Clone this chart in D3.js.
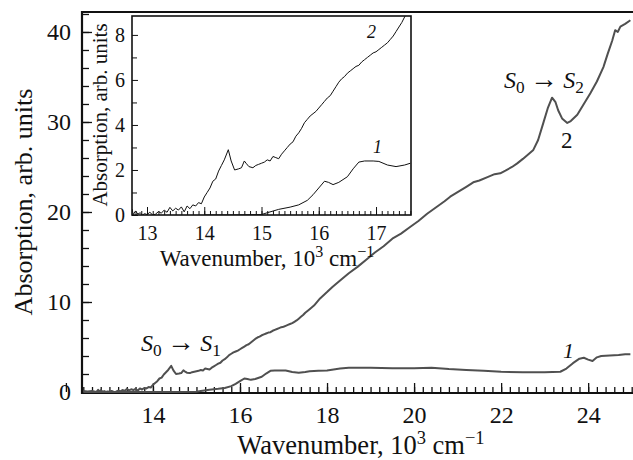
<!DOCTYPE html>
<html>
<head>
<meta charset="utf-8">
<script src="https://cdn.jsdelivr.net/npm/d3@7"></script>
<style>
  body { margin: 0; background: #fff; }
</style>
</head>
<body>
<svg id="chart" width="633" height="460"></svg>
<script>
// curve 2 (S0->S1 and S0->S2 bands), wavenumber in 10^3 cm^-1
const wave2 = [12.40, 12.50, 12.60, 12.70, 12.74, 12.76, 12.80, 12.84, 12.88, 12.92, 12.96, 13.00,
  13.05, 13.10, 13.15, 13.20, 13.25, 13.30, 13.35, 13.40, 13.45, 13.50, 13.55, 13.60, 13.65, 13.70,
  13.75, 13.80, 13.85, 13.90, 13.95, 14.00, 14.05, 14.10, 14.15, 14.20, 14.25, 14.30, 14.35, 14.42,
  14.47, 14.53, 14.60, 14.65, 14.70, 14.73, 14.78, 14.85, 14.90, 14.95, 15.00, 15.05, 15.10, 15.15,
  15.20, 15.25, 15.30, 15.35, 15.40, 15.45, 15.50, 15.55, 15.60, 15.65, 15.70, 15.75, 15.80, 15.85,
  15.90, 15.95, 16.00, 16.05, 16.10, 16.15, 16.20, 16.25, 16.30, 16.35, 16.40, 16.45, 16.50, 16.55,
  16.60, 16.65, 16.70, 16.75, 16.80, 16.85, 16.90, 16.95, 17.00, 17.05, 17.10, 17.15, 17.20, 17.25,
  17.30, 17.35, 17.40, 17.45, 17.50, 17.55, 17.60, 17.70, 17.84, 18.00, 18.13, 18.30, 18.50, 18.70,
  18.90, 19.10, 19.30, 19.52, 19.70, 19.90, 20.10, 20.30, 20.50, 20.70, 20.83, 21.00, 21.20, 21.36,
  21.50, 21.70, 21.85, 21.98, 22.10, 22.25, 22.37, 22.50, 22.62, 22.74, 22.85, 22.97, 23.07, 23.17,
  23.25, 23.31, 23.40, 23.52, 23.60, 23.75, 23.90, 24.05, 24.20, 24.35, 24.45, 24.55, 24.62, 24.68,
  24.74, 24.85, 24.97];
const abs2 = [0.10, 0.05, 0.12, 0.00, 0.25, 0.02, 0.18, 0.04, 0.10, 0.00, 0.06, 0.02,
  0.12, 0.00, 0.04, 0.15, 0.08, 0.22, 0.12, 0.34, 0.18, 0.30, 0.22, 0.36, 0.14, 0.40,
  0.28, 0.45, 0.40, 0.55, 0.50, 0.80, 1.00, 1.20, 1.50, 1.60, 1.95, 2.20, 2.45, 2.90,
  2.40, 2.00, 2.05, 2.10, 2.40, 2.30, 2.15, 2.10, 2.20, 2.25, 2.30, 2.35, 2.45, 2.40,
  2.60, 2.55, 2.50, 2.70, 2.85, 3.00, 3.15, 3.25, 3.50, 3.65, 3.85, 4.10, 4.25, 4.40,
  4.50, 4.60, 4.75, 4.90, 5.05, 5.20, 5.30, 5.50, 5.70, 5.90, 6.05, 6.15, 6.30, 6.40,
  6.50, 6.60, 6.65, 6.80, 6.90, 7.00, 7.10, 7.20, 7.25, 7.35, 7.45, 7.55, 7.65, 7.80,
  7.95, 8.15, 8.35, 8.55, 8.80, 9.00, 9.20, 9.60, 10.40, 11.10, 11.70, 12.40, 13.20, 13.90,
  14.70, 15.50, 16.20, 17.10, 17.60, 18.30, 19.00, 19.80, 20.50, 21.20, 21.70, 22.20, 22.80, 23.30,
  23.50, 23.90, 24.20, 24.30, 24.60, 25.00, 25.40, 25.90, 26.40, 26.90, 28.00, 29.90, 31.50, 32.70,
  32.20, 31.30, 30.40, 29.90, 30.10, 30.80, 32.00, 33.20, 34.50, 36.10, 37.60, 39.00, 40.20, 40.00,
  40.60, 40.90, 41.30];

// curve 1
const wave1 = [12.40, 14.00, 14.50, 15.00, 15.10, 15.30, 15.50, 15.65, 15.80, 15.90, 16.00, 16.10,
  16.17, 16.25, 16.35, 16.50, 16.60, 16.70, 16.80, 16.95, 17.05, 17.20, 17.35, 17.50, 17.60, 17.80,
  18.00, 18.30, 18.50, 19.00, 19.50, 20.00, 20.40, 20.80, 21.20, 21.60, 22.00, 22.50, 23.00, 23.36,
  23.50, 23.65, 23.80, 23.90, 24.00, 24.10, 24.20, 24.30, 24.50, 24.70, 24.85, 24.97];
const abs1 = [0.00, 0.00, 0.00, 0.02, 0.10, 0.25, 0.35, 0.45, 0.65, 0.90, 1.20, 1.50,
  1.45, 1.35, 1.45, 1.70, 2.05, 2.35, 2.40, 2.40, 2.38, 2.22, 2.15, 2.22, 2.30, 2.35,
  2.40, 2.60, 2.70, 2.70, 2.65, 2.65, 2.70, 2.55, 2.45, 2.35, 2.25, 2.20, 2.20, 2.25,
  2.60, 3.20, 3.70, 3.80, 3.60, 3.45, 3.85, 4.00, 4.05, 4.10, 4.20, 4.20];

const mainXTicks = [14, 16, 18, 20, 22, 24];
const mainYTicks = [0, 10, 20, 30, 40];
const insetXTicks = [13, 14, 15, 16, 17];
const insetYTicks = [0, 2, 4, 6, 8];

const FONT = "Liberation Serif";
const svg = d3.select("#chart");

const series2 = wave2.map((w, i) => ({ w: w, a: abs2[i] }));
const series1 = wave1.map((w, i) => ({ w: w, a: abs1[i] }));

// ---------- main plot ----------
let x = d3.scaleLinear().domain([12.37, 25.03]).range([82, 633]);
let y = d3.scaleLinear().domain([0, 42.22]).range([392, 12]);

let minorX = d3.range(12.4, 25.01, 0.2).map(v => +v.toFixed(1));
let minorY = d3.range(0, 42.1, 2);

svg.append("g")
    .attr("transform", "translate(0,392)")
    .call(d3.axisBottom(x).tickValues(minorX).tickSize(-5).tickSizeOuter(0).tickFormat(""))
    .call(g => g.select(".domain").remove());
let xAx = svg.append("g")
    .attr("transform", "translate(0,392)")
    .call(d3.axisBottom(x).tickValues(mainXTicks.concat([12])).tickSize(-9).tickSizeOuter(0)
        .tickPadding(14).tickFormat(d => d < 13 ? "" : d3.format("d")(d)));
xAx.select(".domain").remove();
xAx.selectAll("text").style("font-size", "24px");

svg.append("g")
    .attr("transform", "translate(82,0)")
    .call(d3.axisLeft(y).tickValues(minorY).tickSize(-7).tickSizeOuter(0).tickFormat(""))
    .call(g => g.select(".domain").remove());
let yAx = svg.append("g")
    .attr("transform", "translate(82,0)")
    .call(d3.axisLeft(y).tickValues(mainYTicks).tickSize(-10).tickSizeOuter(0).tickPadding(11)
        .tickFormat(d3.format("d")));
yAx.select(".domain").remove();
yAx.selectAll("text").style("font-size", "24px");

svg.selectAll(".tick line").attr("stroke", "#111").attr("stroke-width", 1.3);

// spines
svg.append("path")
    .attr("d", "M633,12H82V393H633")
    .attr("fill", "none")
    .attr("stroke", "#111")
    .attr("stroke-width", 2.2);

let line = d3.line().x(d => x(d.w)).y(d => y(d.a));
[series2, series1].forEach(s => {
    svg.append("path")
        .datum(s)
        .attr("d", line)
        .attr("fill", "none")
        .attr("stroke", "#505050")
        .attr("stroke-width", 2)
        .attr("stroke-linejoin", "round");
});

// axis titles
svg.append("text")
    .attr("transform", "translate(32,202) rotate(-90)")
    .attr("text-anchor", "middle")
    .style("font-size", "26px")
    .text("Absorption, arb. units");

function waveTitle(g, size) {
    g.append("tspan").text("Wavenumber, 10");
    g.append("tspan").attr("dy", -size * 0.38).style("font-size", (size * 0.7) + "px").text("3");
    g.append("tspan").attr("dy", size * 0.38).text(" cm");
    g.append("tspan").attr("dy", -size * 0.38).style("font-size", (size * 0.7) + "px").text("\u22121");
}
let xTitle = svg.append("text")
    .attr("x", 361).attr("y", 454)
    .attr("text-anchor", "middle")
    .style("font-size", "26.5px");
waveTitle(xTitle, 26.5);

// annotations
function transition(g, sub, size) {
    g.append("tspan").style("font-style", "italic").text("S");
    g.append("tspan").attr("dy", size * 0.2).style("font-size", (size * 0.72) + "px").text("0");
    g.append("tspan").attr("dy", -size * 0.2).style("font-size", (size * 1.15) + "px")
        .text("\u2009\u2192\u2009");
    g.append("tspan").style("font-style", "italic").text("S");
    g.append("tspan").attr("dy", size * 0.2).style("font-size", (size * 0.72) + "px").text(sub);
}
let s1 = svg.append("text").attr("x", 141).attr("y", 351).style("font-size", "24px");
transition(s1, "1", 24);
let s2 = svg.append("text").attr("x", 504).attr("y", 88).style("font-size", "24px");
transition(s2, "2", 24);

svg.append("text").attr("x", 561).attr("y", 148).style("font-size", "23px").text("2");
svg.append("text").attr("x", 563).attr("y", 358).style("font-size", "22px")
    .style("font-style", "italic").text("1");

// ---------- inset ----------
let ix = d3.scaleLinear().domain([12.738, 17.611]).range([132, 411]);
let iy = d3.scaleLinear().domain([0, 8.84]).range([215, 16]);

let inset = svg.append("g");
inset.append("rect")
    .attr("x", 132).attr("y", 16).attr("width", 279).attr("height", 199)
    .attr("fill", "#fff");

svg.append("clipPath").attr("id", "insetClip")
    .append("rect").attr("x", 132).attr("y", 16).attr("width", 279).attr("height", 199);

let iMinorX = d3.range(12.8, 17.61, 0.1).map(v => +v.toFixed(1));
inset.append("g")
    .attr("transform", "translate(0,215)")
    .call(d3.axisBottom(ix).tickValues(iMinorX).tickSize(-4).tickSizeOuter(0).tickFormat(""))
    .call(g => g.select(".domain").remove());
let ixAx = inset.append("g")
    .attr("transform", "translate(0,215)")
    .call(d3.axisBottom(ix).tickValues(insetXTicks).tickSize(-8).tickSizeOuter(0).tickPadding(11)
        .tickFormat(d3.format("d")));
ixAx.select(".domain").remove();
ixAx.selectAll("text").style("font-size", "20px");

inset.append("g")
    .attr("transform", "translate(132,0)")
    .call(d3.axisLeft(iy).tickValues(d3.range(1, 9, 2)).tickSize(-5).tickSizeOuter(0).tickFormat(""))
    .call(g => g.select(".domain").remove());
let iyAx = inset.append("g")
    .attr("transform", "translate(132,0)")
    .call(d3.axisLeft(iy).tickValues(insetYTicks).tickSize(-6).tickSizeOuter(0).tickPadding(7)
        .tickFormat(d3.format("d")));
iyAx.select(".domain").remove();
iyAx.selectAll("text").style("font-size", "20px");

inset.selectAll(".tick line").attr("stroke", "#111").attr("stroke-width", 1);

let iline = d3.line().x(d => ix(d.w)).y(d => iy(d.a));
[series2, series1].forEach(s => {
    inset.append("path")
        .datum(s.filter(d => d.w >= 12.7 && d.w <= 17.7))
        .attr("d", iline)
        .attr("clip-path", "url(#insetClip)")
        .attr("fill", "none")
        .attr("stroke", "#111")
        .attr("stroke-width", 1)
        .attr("stroke-linejoin", "round");
});

inset.append("rect")
    .attr("x", 132).attr("y", 16).attr("width", 279).attr("height", 199)
    .attr("fill", "none")
    .attr("stroke", "#111")
    .attr("stroke-width", 1.6);

inset.append("text")
    .attr("transform", "translate(107,115) rotate(-90)")
    .attr("text-anchor", "middle")
    .style("font-size", "21px")
    .text("Absorption, arb. units");
let ixTitle = inset.append("text")
    .attr("x", 267).attr("y", 266)
    .attr("text-anchor", "middle")
    .style("font-size", "23px");
waveTitle(ixTitle, 23);

inset.append("text").attr("x", 367).attr("y", 38).style("font-size", "18px")
    .style("font-style", "italic").text("2");
inset.append("text").attr("x", 373).attr("y", 153).style("font-size", "18px")
    .style("font-style", "italic").text("1");

// serif everywhere, also inside the axis groups
svg.selectAll("g").attr("font-family", null);
svg.selectAll("text").style("font-family", FONT).style("fill", "#111");
</script>
</body>
</html>
